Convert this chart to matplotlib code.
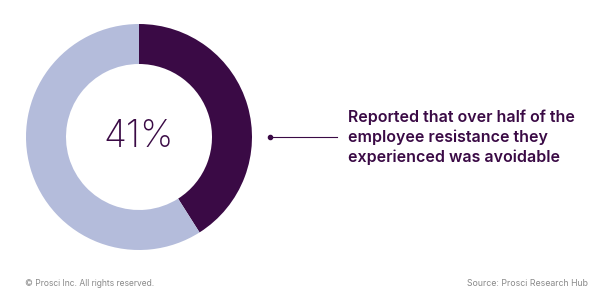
import matplotlib
matplotlib.use("Agg")
import matplotlib.pyplot as plt

labels = ["Avoidable", "Other"]
values = [41, 59]
center_label = "41%"
callout = "Reported that over half of the\nemployee resistance they\nexperienced was avoidable"
footer_left = "© Prosci Inc. All rights reserved."
footer_right = "Source: Prosci Research Hub"

dark = "#3a0a45"
light = "#b4bcdb"

fig = plt.figure(figsize=(6, 3), dpi=100)
ax = fig.add_axes([0, 0, 1, 1])

cx, cy, R = 139, 300 - 137, 113
ax.pie(values, colors=[dark, light], startangle=90, counterclock=False,
       center=(cx, cy), radius=R, wedgeprops=dict(width=40, edgecolor="none"),
       frame=True)
ax.set_xlim(0, 600)
ax.set_ylim(0, 300)
ax.set_aspect("equal")
ax.axis("off")

ax.text(cx, cy, center_label, ha="center", va="center", fontsize=27,
        fontfamily="Inter", fontweight="light", color=dark)

ax.plot([270, 337], [cy, cy], color=dark, lw=0.8)
ax.plot([270], [cy], "o", color=dark, ms=3)

ax.text(348, cy, callout, ha="left", va="center", fontsize=11.5,
        fontfamily="Inter", fontweight="semibold", color=dark, linespacing=1.35)

ax.text(25, 300 - 284, footer_left, ha="left", va="center", fontsize=6.1,
        fontfamily="Inter", color="#8a8a8a")
ax.text(588, 300 - 284, footer_right, ha="right", va="center", fontsize=6.3,
        fontfamily="Inter", color="#8a8a8a")

fig.savefig("out.png", dpi=100)
